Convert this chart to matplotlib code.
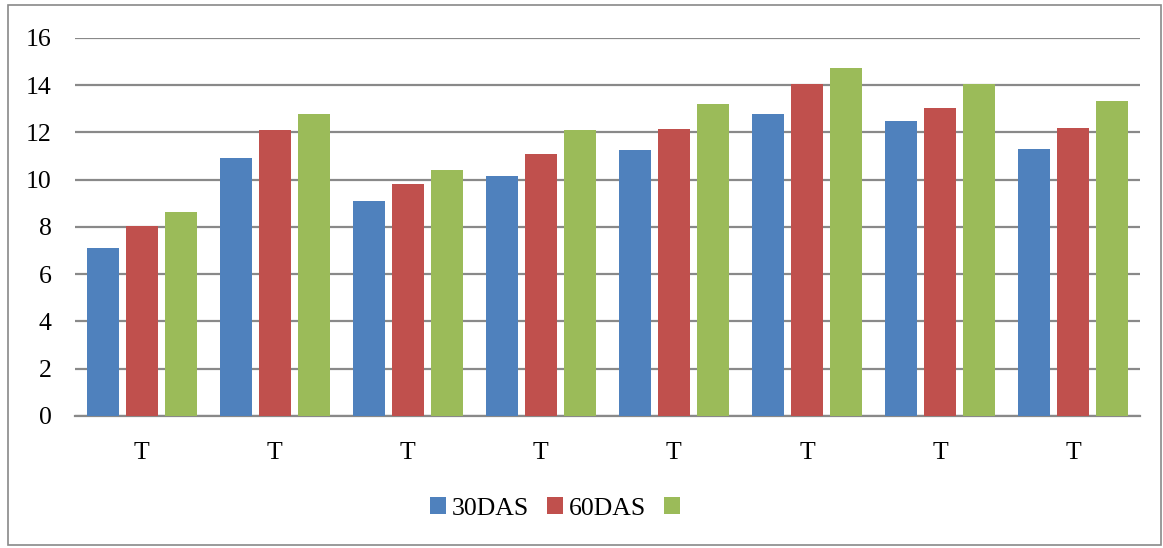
import numpy as np
import matplotlib
matplotlib.use("Agg")
import matplotlib.pyplot as plt
from matplotlib.patches import Rectangle

# values
categories = ["T", "T", "T", "T", "T", "T", "T", "T"]
das30 = [7.1, 10.9, 9.1, 10.15, 11.25, 12.8, 12.5, 11.3]
das60 = [8.05, 12.1, 9.8, 11.1, 12.15, 14.05, 13.05, 12.2]
das90 = [8.65, 12.8, 10.4, 12.1, 13.2, 14.75, 14.05, 13.35]
series_labels = ["30DAS", "60DAS", ""]
y_ticks = [0, 2, 4, 6, 8, 10, 12, 14, 16]

colors = ["#4F81BD", "#C0504D", "#9BBB59"]
grid_color = "#898989"
font_size = 18.5

plt.rcParams["font.family"] = ["Liberation Serif", "DejaVu Serif"]

fig = plt.figure(figsize=(11.63, 5.48), dpi=100)
ax = fig.add_axes([0.0645, 0.2409, 0.9155, 0.6898])

x = np.arange(len(categories))
bar_w = 0.24
step = 0.293
handles = []
for i, (vals, col) in enumerate(zip([das30, das60, das90], colors)):
    h = ax.bar(x + (i - 1) * step, vals, width=bar_w, color=col, zorder=3)
    handles.append(h)

ax.set_xlim(-0.5, len(categories) - 0.5)
ax.set_ylim(0, 16)
ax.set_yticks(y_ticks)
ax.set_xticks(x)
ax.set_xticklabels(categories)
ax.tick_params(axis="both", length=0, labelsize=font_size)
ax.tick_params(axis="x", pad=19)
ax.tick_params(axis="y", pad=17)
ax.yaxis.grid(True, color=grid_color, linewidth=1.6, zorder=0)
for side in ["left", "right", "top"]:
    ax.spines[side].set_visible(False)
ax.spines["bottom"].set_color(grid_color)
ax.spines["bottom"].set_linewidth(1.6)

fig.legend(handles, series_labels, loc="center", bbox_to_anchor=(0.48, 0.072),
           ncol=3, frameon=False, fontsize=font_size, handlelength=0.6, handleheight=0.6,
           handletextpad=0.25, columnspacing=0.7)

fig.patches.append(Rectangle((0.007, 0.006), 0.991, 0.985, transform=fig.transFigure,
                             fill=False, edgecolor=grid_color, linewidth=1.2))

fig.savefig("out.png", dpi=100)
